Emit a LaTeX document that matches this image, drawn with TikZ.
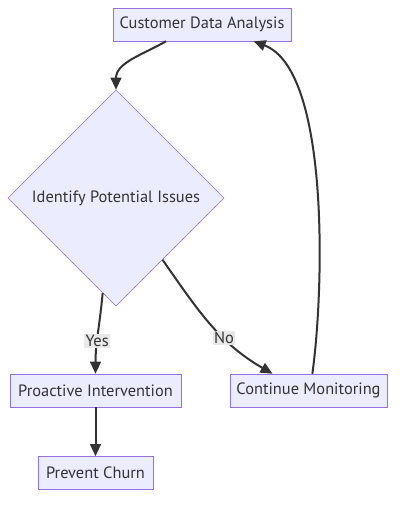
\documentclass[tikz,border=0pt]{standalone}
\usepackage{fontspec}
\setmainfont{PT Sans}
\usepackage{tikz}
\usetikzlibrary{shapes.geometric,arrows.meta,positioning}
\definecolor{boxfill}{HTML}{ECECFF}
\definecolor{boxline}{HTML}{9370DB}
\definecolor{edgeline}{HTML}{333333}
\definecolor{lblfill}{HTML}{E8E8E8}
\tikzset{
	stepbox/.style={draw=boxline,fill=boxfill,rectangle,inner sep=0pt,minimum height=33*0.75pt,font=\fontsize{12.3}{14}\selectfont,text=edgeline},
	choice/.style={draw=boxline,fill=boxfill,diamond,inner sep=0pt,minimum width=216*0.75pt,minimum height=216*0.75pt,font=\fontsize{12.3}{14}\selectfont,text=edgeline},
	flow/.style={draw=edgeline,line width=1.5pt,-{Triangle[length=9pt,width=8pt]}},
	lbl/.style={fill=lblfill,inner sep=1pt,font=\fontsize{12.3}{14}\selectfont,text=edgeline}
}
\begin{document}
\begin{tikzpicture}[x=0.75pt,y=-0.75pt]
	\useasboundingbox (0,0) rectangle (403,508);
	%% the boxes
	\node[stepbox,minimum width=178*0.75pt] (cda) at (202,24.5) {Customer Data Analysis};
	\node[choice] (issues) at (116,198) {Identify Potential Issues};
	\node[stepbox,minimum width=171*0.75pt] (proactive) at (95.5,390.5) {Proactive Intervention};
	\node[stepbox,minimum width=157*0.75pt] (monitor) at (308.5,390.5) {Continue Monitoring};
	\node[stepbox,minimum width=115*0.75pt] (churn) at (95.5,473) {Prevent Churn};
	%% the connectors
	\draw[flow] (cda.-155) to[out=-150,in=90] (issues.north);
	\draw[flow] (issues.262) to[out=-95,in=90] node[lbl,pos=0.6] {Yes} (proactive.north);
	\draw[flow] (issues.-53) to[out=-55,in=150] node[lbl,pos=0.63] {No} (monitor.155);
	\draw[flow] (proactive) -- (churn);
	\draw[flow] (monitor.77) .. controls (324,290) and (330,70) .. (cda.-18);
\end{tikzpicture}
\end{document}
